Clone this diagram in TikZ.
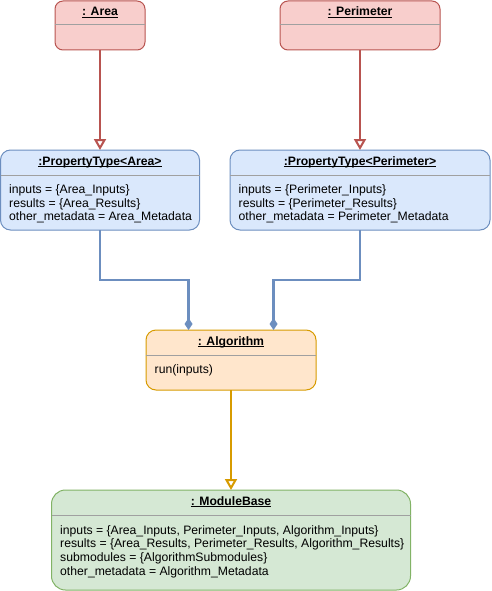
\documentclass[tikz,border=0pt]{standalone}
\usepackage{fontspec}
\setmainfont{Liberation Sans}
\usetikzlibrary{arrows.meta,calc}
\definecolor{redfill}{HTML}{F8CECC}
\definecolor{redline}{HTML}{B85450}
\definecolor{bluefill}{HTML}{DAE8FC}
\definecolor{blueline}{HTML}{6C8EBF}
\definecolor{orfill}{HTML}{FFE6CC}
\definecolor{orline}{HTML}{D79B00}
\definecolor{grfill}{HTML}{D5E8D4}
\definecolor{grline}{HTML}{82B366}
\definecolor{divgray}{HTML}{A0A0A0}
\newcommand\myul[1]{\setbox0\hbox{#1}\rlap{\rule[-1.7pt]{\wd0}{0.8pt}}\box0}
\tikzset{
  umlbox/.style={draw, line width=1pt, inner sep=0pt, outer sep=0pt, rounded corners=8pt},
  redbox/.style={umlbox, draw=redline, fill=redfill},
  bluebox/.style={umlbox, draw=blueline, fill=bluefill, rounded corners=10pt},
  orbox/.style={umlbox, draw=orline, fill=orfill, rounded corners=10pt},
  grbox/.style={umlbox, draw=grline, fill=grfill, rounded corners=14pt},
  divline/.style={draw=divgray, line width=1pt},
  titletxt/.style={anchor=base, inner sep=0pt, font=\fontsize{12.2}{14}\selectfont\bfseries},
  bodytxt/.style={anchor=base west, inner sep=0pt, font=\fontsize{12.2}{14}\selectfont},
  redcon/.style={draw=redline, line width=2.6pt, -{Triangle[length=11pt, width=12pt, fill=white, line width=2pt]}},
  bluecon/.style={draw=blueline, line width=2.6pt, -{Diamond[length=12pt, width=8pt]}},
  orcon/.style={draw=orline, line width=2.6pt, -{Triangle[length=11pt, width=12pt, fill=white, line width=2pt]}},
}
\begin{document}
\begin{tikzpicture}[x=1pt,y=-1pt]
\useasboundingbox (0,0) rectangle (491,591);
% boxes
\node[redbox, minimum width=90pt, minimum height=49pt] (area) at (100,25.5) {};
\node[redbox, minimum width=160pt, minimum height=49pt] (perim) at (360,25.5) {};
\node[bluebox, minimum width=199pt, minimum height=80pt] (pta) at (100,190) {};
\node[bluebox, minimum width=260pt, minimum height=80pt] (ptp) at (360,190) {};
\node[orbox, minimum width=170pt, minimum height=60pt] (alg) at (231,360) {};
\node[grbox, minimum width=359pt, minimum height=100pt] (mb) at (231,540) {};
% dividers
\draw[divline] ($(area.north west)+(0,24)$) -- ($(area.north east)+(0,24)$);
\draw[divline] ($(perim.north west)+(0,24)$) -- ($(perim.north east)+(0,24)$);
\draw[divline] ($(pta.north west)+(0,25)$) -- ($(pta.north east)+(0,25)$);
\draw[divline] ($(ptp.north west)+(0,25)$) -- ($(ptp.north east)+(0,25)$);
\draw[divline] ($(alg.north west)+(0,25)$) -- ($(alg.north east)+(0,25)$);
\draw[divline] ($(mb.north west)+(0,25.5)$) -- ($(mb.north east)+(0,25.5)$);
% titles
\node[titletxt] (areaT) at ($(area.north)+(0,15)$) {\myul{: Area}};
\node[titletxt] (perimT) at ($(perim.north)+(0,15)$) {\myul{: Perimeter}};
\node[titletxt] (ptaT) at ($(pta.north)+(0,15.5)$) {\myul{:PropertyType<Area>}};
\node[titletxt] (ptpT) at ($(ptp.north)+(0,15.5)$) {\myul{:PropertyType<Perimeter>}};
\node[titletxt] (algT) at ($(alg.north)+(0,15.5)$) {\myul{: Algorithm}};
\node[titletxt] (mbT) at ($(mb.north)+(0,15.5)$) {\myul{: ModuleBase}};
% bodies
\node[bodytxt] (pta1) at ($(pta.north west)+(8.5,43.5)$) {inputs = \{Area\_Inputs\}};
\node[bodytxt] (pta2) at ($(pta.north west)+(8.5,57.2)$) {results = \{Area\_Results\}};
\node[bodytxt] (pta3) at ($(pta.north west)+(8.5,70.9)$) {other\_metadata = Area\_Metadata};
\node[bodytxt] (ptp1) at ($(ptp.north west)+(8.5,43.5)$) {inputs = \{Perimeter\_Inputs\}};
\node[bodytxt] (ptp2) at ($(ptp.north west)+(8.5,57.2)$) {results = \{Perimeter\_Results\}};
\node[bodytxt] (ptp3) at ($(ptp.north west)+(8.5,70.9)$) {other\_metadata = Perimeter\_Metadata};
\node[bodytxt] (alg1) at ($(alg.north west)+(8.5,43.5)$) {run(inputs)};
\node[bodytxt] (mb1) at ($(mb.north west)+(8.5,44)$) {inputs = \{Area\_Inputs, Perimeter\_Inputs, Algorithm\_Inputs\}};
\node[bodytxt] (mb2) at ($(mb.north west)+(8.5,57.8)$) {results = \{Area\_Results, Perimeter\_Results, Algorithm\_Results\}};
\node[bodytxt] (mb3) at ($(mb.north west)+(8.5,71.6)$) {submodules = \{AlgorithmSubmodules\}};
\node[bodytxt] (mb4) at ($(mb.north west)+(8.5,85.4)$) {other\_metadata = Algorithm\_Metadata};
% connectors
\coordinate (algL) at ($(alg.north west)!0.25!(alg.north east)$);
\coordinate (algR) at ($(alg.north west)!0.75!(alg.north east)$);
\draw[redcon] (area) -- (pta);
\draw[redcon] (perim) -- (ptp);
\draw[bluecon] (pta.south) -- ++(0,50) -| (algL);
\draw[bluecon] (ptp.south) -- ++(0,50) -| (algR);
\draw[orcon] (alg) -- (mb);
\end{tikzpicture}
\end{document}
